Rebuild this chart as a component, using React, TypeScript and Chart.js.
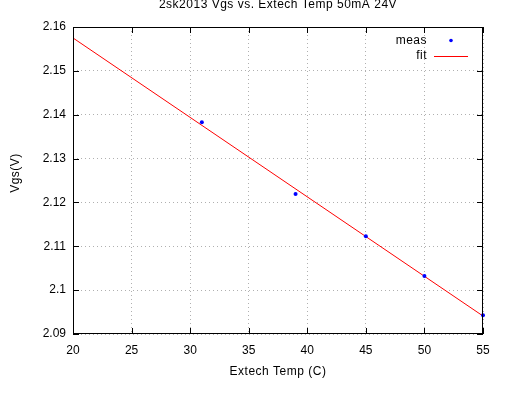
import React, { useEffect, useRef } from "react";
import { Chart, registerables } from "chart.js";

Chart.register(...registerables);

const TITLE = "2sk2013 Vgs vs. Extech Temp 50mA 24V";
const X_TITLE = "Extech Temp (C)";
const Y_TITLE = "Vgs(V)";
const measTemp = [31, 39, 45, 50, 55];
const measVgs = [2.1383, 2.1219, 2.1123, 2.1032, 2.0943];
const fitTemp = [20, 55];
const fitVgs = [2.1575, 2.0941];
const xTicks = [20, 25, 30, 35, 40, 45, 50, 55];
const yTicks = [2.09, 2.1, 2.11, 2.12, 2.13, 2.14, 2.15, 2.16];

const FONT = "'Liberation Sans', Arial, sans-serif";

const gnuplotPlugin = {
  id: "gnuplotDecor",
  afterDraw(chart: any) {
    const { ctx, chartArea: a, scales } = chart;
    ctx.save();
    // border
    ctx.strokeStyle = "#000";
    ctx.lineWidth = 1;
    ctx.setLineDash([]);
    ctx.strokeRect(Math.round(a.left) + 0.5, Math.round(a.top) + 0.5, Math.round(a.right - a.left) - 1, Math.round(a.bottom - a.top) - 1);
    // inward ticks
    ctx.beginPath();
    const tl = 6;
    for (const v of xTicks) {
      const x = Math.round(scales.x.getPixelForValue(v)) + 0.5;
      ctx.moveTo(x, a.bottom);
      ctx.lineTo(x, a.bottom - tl);
      ctx.moveTo(x, a.top);
      ctx.lineTo(x, a.top + tl);
    }
    for (const v of yTicks) {
      const y = Math.round(scales.y.getPixelForValue(v)) + 0.5;
      ctx.moveTo(a.left, y);
      ctx.lineTo(a.left + tl, y);
      ctx.moveTo(a.right, y);
      ctx.lineTo(a.right - tl, y);
    }
    ctx.stroke();
    // titles
    ctx.fillStyle = "#000";
    ctx.font = `12px ${FONT}`;
    try {
      (ctx as any).letterSpacing = "0.5px";
    } catch (e) {}
    ctx.textAlign = "center";
    ctx.textBaseline = "middle";
    ctx.fillText(TITLE, (a.left + a.right) / 2, 5);
    ctx.fillText(X_TITLE, (a.left + a.right) / 2, 372);
    ctx.save();
    ctx.translate(16, 173);
    ctx.rotate(-Math.PI / 2);
    ctx.fillText(Y_TITLE, 0, 0);
    ctx.restore();
    // legend
    ctx.textAlign = "right";
    ctx.fillText("meas", 427, 41);
    ctx.fillText("fit", 427, 56);
    ctx.fillStyle = "#0000ff";
    ctx.beginPath();
    ctx.arc(451, 40.5, 1.8, 0, Math.PI * 2);
    ctx.fill();
    ctx.strokeStyle = "#ff0000";
    ctx.beginPath();
    ctx.moveTo(434, 56.5);
    ctx.lineTo(468, 56.5);
    ctx.stroke();
    ctx.restore();
  },
};

export default function App() {
  const ref = useRef<HTMLCanvasElement>(null);
  useEffect(() => {
    document.body.style.margin = "0";
    const chart = new Chart(ref.current!, {
      type: "scatter",
      data: {
        datasets: [
          {
            label: "fit",
            data: fitTemp.map((x, i) => ({ x, y: fitVgs[i] })),
            showLine: true,
            borderColor: "#ff0000",
            borderWidth: 1,
            pointRadius: 0,
            order: 2,
          },
          {
            label: "meas",
            data: measTemp.map((x, i) => ({ x, y: measVgs[i] })),
            showLine: false,
            backgroundColor: "#0000ff",
            borderColor: "#0000ff",
            borderWidth: 0,
            pointRadius: 2,
            clip: false,
            order: 1,
          } as any,
        ],
      },
      options: {
        animation: false,
        responsive: false,
        devicePixelRatio: 1,
        layout: { padding: { top: 27, right: 30, left: 0, bottom: 0 } },
        plugins: { legend: { display: false }, title: { display: false }, tooltip: { enabled: false } },
        scales: {
          x: {
            type: "linear",
            min: 20,
            max: 55,
            afterBuildTicks: (s: any) => {
              s.ticks = xTicks.map((v) => ({ value: v }));
            },
            afterFit: (s: any) => {
              s.height = 63;
            },
            ticks: { color: "#000", font: { family: FONT, size: 12 }, padding: 9, maxRotation: 0 },
            grid: { color: "#b0b0b0", drawTicks: false },
            border: { display: false, dash: [1, 3] },
          },
          y: {
            type: "linear",
            min: 2.09,
            max: 2.16,
            afterBuildTicks: (s: any) => {
              s.ticks = yTicks.map((v) => ({ value: v }));
            },
            afterFit: (s: any) => {
              s.width = 73;
            },
            ticks: {
              color: "#000",
              font: { family: FONT, size: 12 },
              padding: 7,
              callback: (v: any) => String(Math.round(Number(v) * 1000) / 1000),
            },
            grid: { color: "#b0b0b0", drawTicks: false },
            border: { display: false, dash: [1, 3] },
          },
        },
      },
      plugins: [gnuplotPlugin],
    });
    return () => chart.destroy();
  }, []);
  return (
    <div style={{ width: 513, height: 397, background: "#fff" }}>
      <canvas ref={ref} width={513} height={397} />
    </div>
  );
}
